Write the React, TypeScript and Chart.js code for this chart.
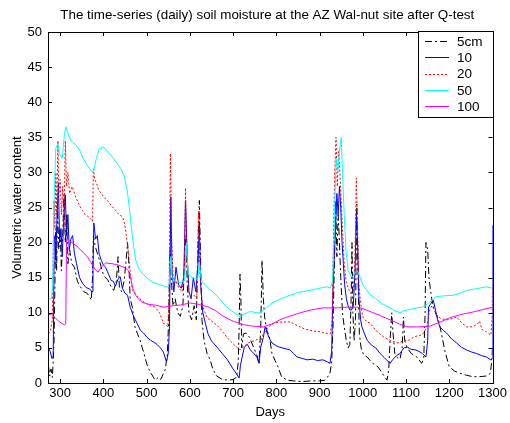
import React, { useEffect, useRef } from "react";
import { Chart, registerables } from "chart.js";
Chart.register(...registerables);

const titleText = "The time-series (daily) soil moisture at the AZ Wal-nut site after Q-test";
const xTitle = "Days";
const yTitle = "Volumetric water content";
const seriesNames = ["5cm", "10", "20", "50", "100"];
const xTickValues = [300, 400, 500, 600, 700, 800, 900, 1000, 1100, 1200, 1300];
const yTickValues = [0, 5, 10, 15, 20, 25, 30, 35, 40, 45, 50];

// 5 cm (black dash-dot)
const days5 = [273, 276, 279, 282, 284, 286, 288, 290, 292, 294, 297, 300, 303, 306, 309, 312, 315, 318, 322, 327, 333, 340, 347, 355, 362, 368, 372, 375, 377, 381, 386, 391, 397, 402, 410, 418, 424, 430, 434, 437, 442, 448, 452, 456, 459, 462, 467, 473, 479, 485, 490, 494, 501, 508, 514, 520, 527, 533, 539, 543, 548, 551, 554, 557, 561, 566, 572, 578, 584, 588, 591, 594, 598, 604, 610, 615, 619, 622, 625, 628, 633, 640, 647, 653, 662, 675, 690, 700, 708, 712, 714, 716, 718, 720, 724, 730, 738, 748, 755, 760, 764, 767, 770, 773, 778, 784, 790, 797, 804, 812, 825, 840, 860, 880, 900, 912, 918, 924, 928, 931, 934, 937, 940, 943, 946, 949, 953, 957, 962, 966, 970, 973, 975, 977, 980, 983, 986, 989, 992, 996, 1002, 1010, 1017, 1023, 1035, 1045, 1056, 1060, 1063, 1067, 1070, 1074, 1080, 1086, 1091, 1094, 1097, 1102, 1112, 1125, 1136, 1141, 1144, 1146, 1150, 1153, 1157, 1162, 1168, 1175, 1182, 1190, 1200, 1212, 1224, 1240, 1254, 1270, 1286, 1295, 1298, 1300];
const vals5 = [2.5, 1, 2, 0.8, 3, 6, 14, 22, 16, 25, 19, 22, 16, 21, 26.8, 20, 24, 17, 19, 17, 16.5, 14.5, 13.7, 13, 12.8, 12.3, 11.8, 15, 21, 19.5, 18.5, 17.5, 16, 15.2, 14.7, 13.7, 13.2, 14.5, 18, 13.7, 13, 14.5, 17, 20, 17, 12, 10.8, 8, 7, 6.1, 5, 4.2, 2.6, 1.6, 1, 0.4, 0.8, 0.5, 1.4, 1.9, 4, 9, 19, 15, 11, 12, 10, 9.5, 11, 18, 21, 14, 10, 9, 11, 9, 20, 26, 17, 9, 6, 4.2, 3.3, 2, 1, 0.5, 0.4, 0.5, 0.8, 3, 8, 15.5, 12, 5, 7, 7.1, 6.5, 5, 4, 2.8, 8, 17.5, 12, 9.4, 7.5, 6.6, 4.2, 3.2, 2.3, 0.9, 0.4, 0.3, 0.2, 0.3, 0.3, 0.4, 0.8, 1.4, 3, 8, 16, 26, 18, 24, 20, 15, 10, 8, 6, 5, 5.5, 12, 20, 10, 6, 9, 25.5, 15, 7, 5, 4, 3.7, 3.2, 2.8, 2.3, 1.4, 0.4, 2, 6, 10, 7, 4.2, 3.6, 3.4, 5, 9.4, 6, 5.1, 4.2, 3.7, 2.8, 3.5, 10, 20, 19, 15, 13, 11, 10, 9, 7, 4.5, 2.3, 1.7, 1.4, 1.1, 0.9, 0.9, 1, 1.4, 3, 5];

// 10 cm (blue)
const days10 = [273, 277, 281, 284, 286, 288, 290, 293, 296, 299, 302, 305, 308, 312, 315, 318, 321, 325, 329, 333, 338, 345, 352, 360, 368, 374, 376, 378, 382, 386, 390, 395, 400, 405, 412, 418, 423, 428, 434, 439, 444, 450, 456, 462, 470, 478, 486, 493, 501, 509, 517, 524, 532, 539, 546, 550, 553, 556, 559, 563, 568, 574, 580, 586, 590, 594, 598, 603, 608, 614, 619, 622, 625, 630, 636, 642, 650, 663, 675, 687, 700, 708, 714, 717, 721, 726, 733, 740, 748, 755, 760, 764, 770, 774, 779, 785, 790, 800, 808, 820, 832, 840, 848, 860, 871, 885, 895, 908, 918, 924, 928, 931, 934, 937, 940, 943, 946, 949, 952, 955, 958, 962, 966, 970, 974, 978, 982, 985, 988, 991, 995, 998, 1004, 1010, 1020, 1030, 1040, 1050, 1063, 1070, 1078, 1086, 1095, 1103, 1112, 1123, 1130, 1138, 1146, 1150, 1152, 1156, 1163, 1168, 1173, 1178, 1186, 1194, 1205, 1217, 1228, 1240, 1252, 1263, 1275, 1286, 1296, 1299, 1300];
const vals10 = [5, 4.5, 3.5, 3.8, 17, 21, 17.5, 24, 28.5, 20, 22, 18, 23, 26.8, 21, 24, 19, 20.5, 21, 18.5, 17, 15, 14.2, 13.6, 13.4, 13, 16, 22.8, 20.5, 21, 18.5, 17.5, 16.8, 16.5, 15.5, 14.6, 14.5, 13.8, 14.8, 15.1, 13.5, 12.8, 12.5, 10.8, 9.5, 8.5, 7.5, 7.1, 6.5, 6.1, 5.8, 5.5, 5, 4.4, 3, 4.2, 8, 26.5, 16, 13, 16.5, 14, 13.5, 15, 26, 18, 13, 12, 15, 13, 17, 23, 14, 10, 8.5, 7, 6, 5.1, 4.2, 3.3, 2, 1.3, 0.7, 2.5, 3.7, 5.1, 5.5, 4.7, 4.2, 3.7, 2.8, 5.1, 6.5, 8, 7.1, 6.2, 5.7, 5.3, 5.1, 4.9, 4.7, 4.2, 3.7, 3.5, 3.3, 3.4, 3.2, 3.3, 3, 2.8, 4.5, 13.2, 18, 22, 27, 24, 28, 25, 20, 17, 14, 12, 11, 10.4, 10.4, 11, 16, 24, 20, 12, 9, 8, 7, 6.1, 5.4, 5, 4.2, 3.6, 2.8, 3.4, 3.9, 4.2, 5, 5.1, 4.8, 4.7, 4.5, 4.2, 3.7, 6, 10.8, 11.2, 11.8, 10.4, 9, 8, 7.5, 7.1, 6.3, 5.7, 5.1, 4.7, 4.4, 4.2, 3.9, 3.7, 3.3, 3.5, 22.5];

// 20 cm (red dotted)
const days20 = [273, 278, 282, 284, 286, 288, 290, 292, 295, 297, 300, 303, 306, 309, 312, 315, 318, 322, 328, 336, 343, 351, 358, 365, 372, 375, 377, 380, 384, 389, 395, 401, 409, 418, 428, 436, 444, 448, 451, 455, 458, 462, 467, 472, 479, 488, 497, 508, 520, 530, 539, 545, 549, 552, 555, 558, 562, 568, 575, 582, 587, 590, 593, 597, 603, 610, 616, 620, 624, 629, 640, 655, 667, 677, 690, 705, 716, 725, 735, 748, 756, 763, 770, 778, 787, 800, 815, 832, 848, 865, 885, 901, 915, 925, 929, 932, 935, 938, 941, 944, 947, 950, 953, 957, 961, 966, 972, 978, 982, 985, 988, 991, 995, 1000, 1008, 1017, 1030, 1047, 1063, 1081, 1095, 1107, 1120, 1138, 1148, 1155, 1160, 1165, 1172, 1180, 1194, 1208, 1217, 1228, 1240, 1255, 1265, 1270, 1276, 1286, 1296, 1299, 1300];
const vals20 = [7, 7.5, 9, 18, 26, 22, 30, 24, 34.5, 27, 29, 24, 28, 22, 34.5, 28, 30, 27, 28, 26.5, 25.5, 24.6, 24, 23.7, 23.3, 23, 30.5, 29, 28.5, 27.5, 27, 26.5, 26, 25.3, 24.6, 24, 23.7, 23, 22, 20, 18.5, 16, 13.2, 12.8, 12.3, 11.8, 11.4, 11, 10.8, 10, 8.5, 8.3, 8, 12, 32.7, 20, 14, 14.5, 13.5, 13, 16, 27.8, 18, 13, 12.3, 12.5, 12, 24.4, 15, 11, 9.3, 8.6, 8, 7.2, 6.2, 5.3, 4.7, 5.2, 5.7, 6, 6.2, 5.8, 7, 7.6, 8.3, 8.6, 8.7, 8.7, 8.2, 7.7, 7.4, 7.3, 7.1, 7, 9, 20, 30, 35, 28, 33, 30, 26, 22, 17, 14.7, 13.5, 12.8, 13, 18, 29.2, 22, 14, 11.4, 9.4, 8.8, 8.5, 7.5, 6.6, 6.1, 5.7, 6, 6.1, 6.6, 6.9, 8, 10.5, 11, 10.5, 9.6, 9.2, 9, 9.2, 9.4, 8.6, 8, 8, 8.4, 8.8, 7.6, 7.3, 6.8, 9, 14];

// 50 cm (cyan)
const days50 = [273, 280, 283, 286, 290, 295, 300, 305, 310, 314, 318, 325, 335, 345, 355, 365, 372, 377, 383, 390, 398, 405, 412, 420, 430, 440, 448, 455, 460, 465, 470, 475, 482, 490, 500, 513, 530, 547, 552, 556, 559, 565, 580, 588, 592, 596, 605, 618, 622, 627, 640, 660, 677, 690, 705, 716, 725, 740, 755, 763, 775, 790, 810, 832, 850, 878, 900, 917, 925, 930, 934, 938, 942, 946, 950, 953, 957, 961, 966, 975, 983, 987, 991, 1000, 1015, 1030, 1045, 1063, 1075, 1086, 1095, 1110, 1125, 1138, 1150, 1160, 1170, 1185, 1208, 1225, 1240, 1260, 1286, 1300];
const vals50 = [12, 12, 14, 26, 33.5, 34, 32.5, 32, 35.5, 36.5, 35.5, 34.5, 34, 33.2, 31.8, 30.8, 30.2, 30, 31.8, 33.3, 33.6, 33.4, 32.8, 32.3, 31.4, 30.6, 29.5, 27.5, 25, 22, 19.5, 17.5, 16.3, 15.6, 15, 14.4, 14, 13.7, 14, 18, 15, 14.5, 14.3, 14.6, 20, 15.5, 15, 14.8, 17, 14.5, 13.7, 12.6, 11.4, 10.6, 9.9, 9.4, 9.8, 10.2, 10, 10, 10.6, 11.4, 12, 12.5, 12.9, 13.2, 13.5, 13.7, 13.5, 14.5, 22, 32, 30, 33, 35, 30, 24, 19, 16, 15, 15.8, 16, 15.5, 14, 12.7, 12, 11.3, 10.7, 10.3, 10, 10.3, 10.5, 10.7, 10.8, 11.3, 11.8, 12.3, 12.4, 12.5, 12.8, 13.2, 13.4, 13.7, 13.5];

// 100 cm (magenta)
const days100 = [273, 280, 290, 297, 303, 310, 313, 315, 320, 330, 342, 355, 365, 375, 382, 388, 395, 405, 420, 435, 451, 458, 463, 468, 475, 482, 490, 505, 520, 540, 560, 578, 601, 620, 640, 660, 677, 700, 725, 745, 770, 790, 808, 830, 855, 880, 908, 940, 963, 987, 1000, 1020, 1040, 1063, 1085, 1102, 1130, 1155, 1180, 1201, 1230, 1254, 1280, 1300];
const vals100 = [9.8, 9.7, 9.2, 8.8, 8.5, 8.3, 8.4, 20.5, 20.3, 19.9, 19.3, 18.5, 17.8, 16.8, 16.1, 15.8, 16.5, 17.1, 17, 16.8, 16.4, 16, 15, 13.5, 12.5, 11.9, 11.5, 11.2, 11.1, 10.8, 11, 11.1, 11.4, 11.2, 10.9, 10.3, 9.5, 8.8, 8.3, 8.1, 8, 8.4, 9, 9.5, 10, 10.4, 10.7, 10.7, 10.8, 10.8, 10.6, 10.1, 9.6, 9, 8.4, 8, 8, 8.1, 8.7, 9.3, 9.8, 10.1, 10.5, 10.8];

const seriesColors = ["#000000", "#0000FF", "#FF0000", "#00FFFF", "#FF00FF"];
const seriesDashes = [[7, 3, 2, 3], [], [2, 2], [], []];

const FONT = "'Liberation Sans', Arial, Helvetica, sans-serif";

const toPts = (d: number[], v: number[]) => d.map((x, i) => ({ x, y: v[i] }));

const decorPlugin = {
  id: "decor",
  afterDatasetsDraw(chart: any) {
    const { ctx, chartArea, scales } = chart;
    const { left, right, top, bottom } = chartArea;
    ctx.save();
    ctx.strokeStyle = "#000";
    ctx.lineWidth = 1;
    ctx.setLineDash([]);
    // box
    ctx.strokeRect(Math.round(left) + 0.5, Math.round(top) + 0.5, Math.round(right - left), Math.round(bottom - top));
    // ticks inward
    const tl = 4;
    ctx.beginPath();
    xTickValues.forEach((v) => {
      const px = Math.round(scales.x.getPixelForValue(v)) + 0.5;
      ctx.moveTo(px, bottom);
      ctx.lineTo(px, bottom - tl);
      ctx.moveTo(px, top);
      ctx.lineTo(px, top + tl);
    });
    yTickValues.forEach((v) => {
      const py = Math.round(scales.y.getPixelForValue(v)) + 0.5;
      ctx.moveTo(left, py);
      ctx.lineTo(left + tl, py);
      ctx.moveTo(right, py);
      ctx.lineTo(right - tl, py);
    });
    ctx.stroke();

    // title and axis titles
    ctx.fillStyle = "#000";
    ctx.font = `13.4px ${FONT}`;
    ctx.textAlign = "center";
    ctx.textBaseline = "middle";
    const cx = (left + right) / 2;
    ctx.fillText(titleText, cx - 3, 15);
    ctx.font = `13px ${FONT}`;
    ctx.fillText(xTitle, cx, 412);
    ctx.save();
    ctx.translate(17, (top + bottom) / 2);
    ctx.rotate(-Math.PI / 2);
    ctx.fillText(yTitle, 0, 0);
    ctx.restore();

    // legend
    const lx0 = 418, lx1 = Math.round(right), ly0 = Math.round(top) - 1, ly1 = 117;
    ctx.fillStyle = "#fff";
    ctx.fillRect(lx0, ly0, lx1 - lx0, ly1 - ly0);
    ctx.strokeStyle = "#000";
    ctx.strokeRect(lx0 + 0.5, ly0 + 0.5, lx1 - lx0, ly1 - ly0);
    ctx.font = `13.5px ${FONT}`;
    ctx.textAlign = "left";
    ctx.textBaseline = "middle";
    seriesNames.forEach((name, i) => {
      const y = 41 + i * 16.3;
      ctx.strokeStyle = seriesColors[i];
      ctx.setLineDash(seriesDashes[i]);
      ctx.beginPath();
      ctx.moveTo(425, Math.round(y) + 0.5);
      ctx.lineTo(449, Math.round(y) + 0.5);
      ctx.stroke();
      ctx.setLineDash([]);
      ctx.fillStyle = "#000";
      ctx.fillText(name, 457, y + 1);
    });
    ctx.restore();
  },
};

export default function App() {
  const ref = useRef<HTMLCanvasElement | null>(null);
  useEffect(() => {
    if (!ref.current) return;
    const all = [
      [days5, vals5],
      [days10, vals10],
      [days20, vals20],
      [days50, vals50],
      [days100, vals100],
    ];
    const chart = new Chart(ref.current, {
      type: "line",
      data: {
        datasets: all.map(([d, v], i) => ({
          label: seriesNames[i],
          data: toPts(d as number[], v as number[]),
          borderColor: seriesColors[i],
          backgroundColor: seriesColors[i],
          borderWidth: 1,
          borderDash: seriesDashes[i],
          pointRadius: 0,
          tension: 0,
          fill: false,
          order: 5 - i,
        })),
      },
      options: {
        animation: false,
        responsive: false,
        events: [],
        layout: { padding: { top: 32, right: 17, left: 0, bottom: 0 } },
        plugins: { legend: { display: false }, title: { display: false }, tooltip: { enabled: false } },
        scales: {
          x: {
            type: "linear",
            min: 272,
            max: 1300,
            grid: { display: false, drawTicks: false },
            border: { display: false },
            ticks: {
              stepSize: 100,
              padding: 3,
              color: "#000",
              font: { family: FONT, size: 13 },
              maxRotation: 0,
              callback: (v: any) => String(v),
            },
            afterBuildTicks: (s: any) => {
              s.ticks = xTickValues.map((v) => ({ value: v }));
            },
            afterFit: (s: any) => {
              s.height = 40;
            },
          },
          y: {
            type: "linear",
            min: 0,
            max: 50,
            grid: { display: false, drawTicks: false },
            border: { display: false },
            ticks: { stepSize: 5, padding: 6, color: "#000", font: { family: FONT, size: 13 }, callback: (v: any) => String(v) },
            afterBuildTicks: (s: any) => {
              s.ticks = yTickValues.map((v) => ({ value: v }));
            },
            afterFit: (s: any) => {
              s.width = 48;
            },
          },
        },
      },
      plugins: [decorPlugin],
    } as any);
    return () => chart.destroy();
  }, []);
  return (
    <div style={{ position: "fixed", left: 0, top: 0, width: 510, height: 423, background: "#fff" }}>
      <canvas ref={ref} width={510} height={423} style={{ display: "block" }} />
    </div>
  );
}
